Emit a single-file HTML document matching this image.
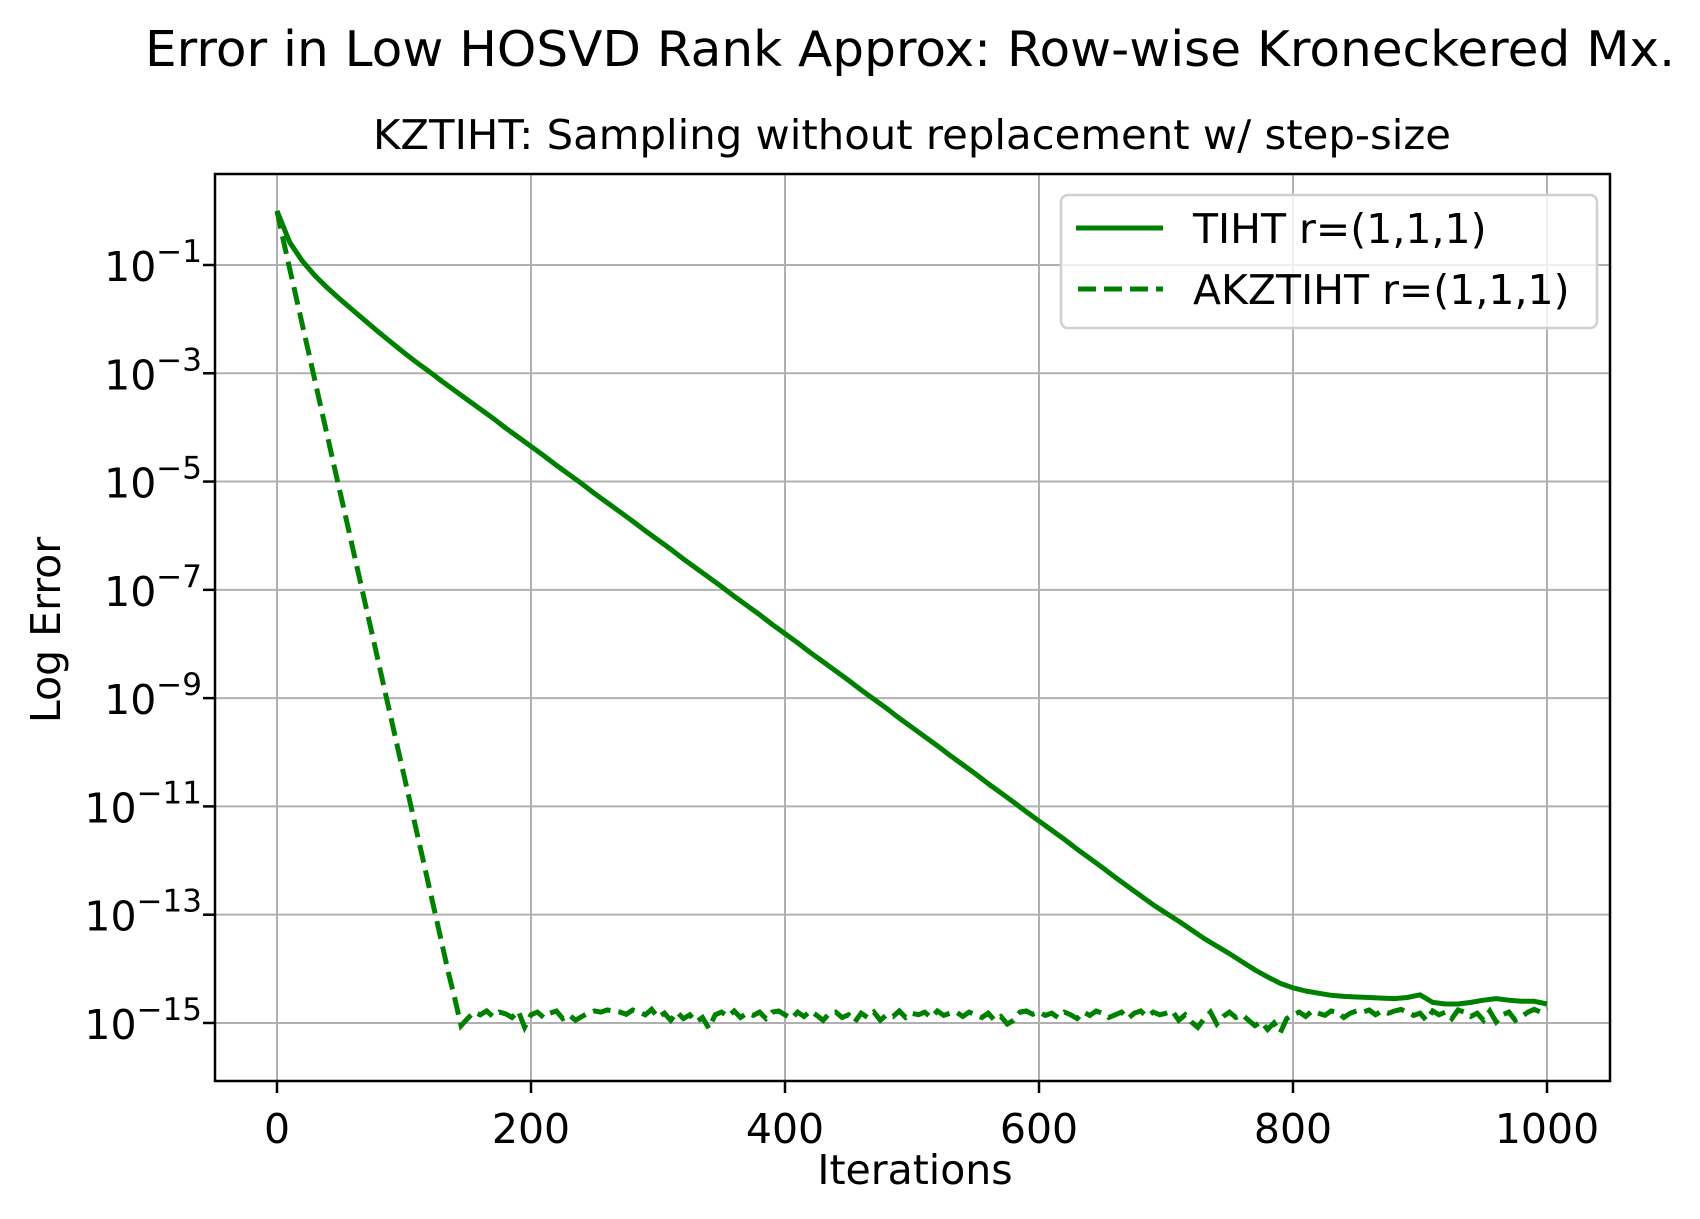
<!DOCTYPE html>
<html><head><meta charset="utf-8"><style>
html,body{margin:0;padding:0;background:#fff;}
svg{display:block;font-family:"DejaVu Sans","Liberation Sans",sans-serif;}
</style></head><body>
<svg id="chart" width="1700" height="1219" viewBox="0 0 1700 1219">
<rect x="0" y="0" width="1700" height="1219" fill="#fff"/>
<text x="910" y="66" font-size="49" text-anchor="middle" textLength="1530" lengthAdjust="spacingAndGlyphs">Error in Low HOSVD Rank Approx: Row-wise Kroneckered Mx.</text>
<text x="912" y="149" font-size="41" text-anchor="middle" textLength="1078" lengthAdjust="spacingAndGlyphs">KZTIHT: Sampling without replacement w/ step-size</text>
<g id="grid"></g>
<g id="series"></g>
<rect x="215" y="174" width="1395" height="907" fill="none" stroke="#000" stroke-width="2.5"/>
<g id="ticks"></g>
<text x="915" y="1184" font-size="41" text-anchor="middle">Iterations</text>
<text x="0" y="0" font-size="41" text-anchor="middle" transform="translate(60,630) rotate(-90)">Log Error</text>
<g>
<rect x="1061" y="195" width="536" height="133" rx="7" fill="#fff" fill-opacity="0.8" stroke="#d0d0d0" stroke-width="2.5"/>
<line x1="1076" y1="228" x2="1163" y2="228" stroke="#008000" stroke-width="5"/>
<text x="1193" y="243" font-size="41">TIHT r=(1,1,1)</text>
<line x1="1078" y1="289" x2="1163" y2="289" stroke="#008000" stroke-width="5" stroke-dasharray="18,8"/>
<text x="1193" y="304" font-size="41">AKZTIHT r=(1,1,1)</text>
</g>
</svg>
<script>
const xTicks = [0, 200, 400, 600, 800, 1000];
const yTickExps = [-1, -3, -5, -7, -9, -11, -13, -15];
const tihtIters = [0,10,20,30,40,50,60,70,80,90,100,110,120,130,140,150,160,170,180,190,200,210,220,230,240,250,260,270,280,290,300,310,320,330,340,350,360,370,380,390,400,410,420,430,440,450,460,470,480,490,500,510,520,530,540,550,560,570,580,590,600,610,620,630,640,650,660,670,680,690,700,710,720,730,740,750,760,770,780,790,800,810,820,830,840,850,860,870,880,890,900,910,920,930,940,950,960,970,980,990,1000];
const tihtLog = [0,-0.58,-0.93,-1.20,-1.43,-1.64,-1.84,-2.04,-2.24,-2.43,-2.62,-2.80,-2.97,-3.15,-3.32,-3.49,-3.66,-3.83,-4.01,-4.18,-4.35,-4.52,-4.70,-4.87,-5.04,-5.22,-5.39,-5.56,-5.73,-5.91,-6.08,-6.25,-6.43,-6.60,-6.77,-6.94,-7.12,-7.29,-7.46,-7.64,-7.81,-7.98,-8.16,-8.33,-8.50,-8.67,-8.85,-9.02,-9.19,-9.37,-9.54,-9.71,-9.88,-10.06,-10.23,-10.40,-10.58,-10.75,-10.92,-11.10,-11.27,-11.44,-11.61,-11.79,-11.96,-12.13,-12.31,-12.48,-12.65,-12.82,-12.97,-13.12,-13.28,-13.44,-13.58,-13.72,-13.87,-14.02,-14.15,-14.27,-14.35,-14.41,-14.45,-14.49,-14.51,-14.52,-14.53,-14.54,-14.55,-14.53,-14.48,-14.62,-14.65,-14.65,-14.62,-14.58,-14.55,-14.58,-14.60,-14.60,-14.65];
const akzIters = [];
for (let i = 0; i <= 1000; i += 5) akzIters.push(i);
const akzLog = [0,-0.55,-1.07,-1.59,-2.11,-2.63,-3.15,-3.67,-4.19,-4.71,-5.23,-5.75,-6.27,-6.79,-7.31,-7.83,-8.35,-8.87,-9.39,-9.91,-10.43,-10.95,-11.47,-11.99,-12.51,-13.03,-13.55,-14.07,-14.55,
-15.05,-14.92,-14.80,-14.85,-14.78,-14.88,-14.80,-14.83,-14.90,-14.78,-15.08,
-14.85,-14.80,-14.90,-14.82,-14.78,-14.92,-14.85,-14.95,-14.88,-14.82,-14.78,-14.80,-14.76,-14.78,-14.80,-14.84,-14.76,-14.80,-14.85,-14.75,
-14.90,-14.82,-14.95,-14.80,-14.92,-14.85,-14.98,-14.90,-15.10,-14.85,-14.80,-14.88,-14.78,-14.90,-14.82,-14.86,-14.80,-14.92,-14.80,-14.78,
-14.85,-14.92,-14.80,-14.88,-14.78,-14.86,-14.95,-14.82,-14.80,-14.90,-14.85,-14.98,-14.82,-14.90,-14.80,-14.95,-14.85,-14.88,-14.78,-14.90,
-14.82,-14.85,-14.80,-14.90,-14.78,-14.86,-14.82,-14.80,-14.88,-14.80,-14.85,-14.90,-14.82,-14.95,-14.88,-15.02,-14.95,-14.80,-14.78,-14.84,
-14.80,-14.86,-14.82,-14.90,-14.80,-14.85,-14.92,-14.80,-14.86,-14.78,-14.82,-14.90,-14.85,-14.80,-14.92,-14.82,-14.78,-14.88,-14.80,-14.85,
-14.82,-14.78,-14.95,-14.85,-14.98,-15.08,-14.92,-14.80,-15.02,-14.88,-14.80,-14.90,-14.85,-14.95,-15.05,-14.98,-15.12,-15.00,-15.18,-14.92,
-14.85,-14.80,-14.88,-14.78,-14.82,-14.86,-14.78,-14.80,-14.90,-14.82,-14.78,-14.80,-14.76,-14.85,-14.78,-14.82,-14.78,-14.75,-14.80,-14.86,
-14.82,-14.95,-14.78,-14.85,-14.80,-14.92,-14.76,-14.80,-14.88,-14.82,-14.95,-14.78,-14.98,-14.85,-14.80,-14.95,-14.88,-14.80,-14.75,-14.80,-14.72];

const NS = 'http://www.w3.org/2000/svg';
const PL = 215, PR = 1610, PT = 174, PB = 1081;
function xScale(v) { return 277 + v * 1.27; }
function yScale(e) { return 265 + (-1 - e) * 54.14; }
function mk(tag, attrs, parent) {
  const el = document.createElementNS(NS, tag);
  for (const k in attrs) el.setAttribute(k, attrs[k]);
  parent.appendChild(el);
  return el;
}
const grid = document.getElementById('grid');
const ticks = document.getElementById('ticks');
xTicks.forEach(function (v) {
  const x = xScale(v);
  const g = mk('line', {x1: x, x2: x, y1: PT, y2: PB, stroke: '#b0b0b0', 'stroke-width': 2}, grid);
  
  
  const t = mk('line', {x1: x, x2: x, y1: PB, y2: PB + 12, stroke: '#000', 'stroke-width': 2.5}, ticks);
  
  
  const l = mk('text', {x: x, y: 1143, 'font-size': 41, 'text-anchor': 'middle'}, ticks);
  l.textContent = String(v);
  
  
});
yTickExps.forEach(function (e) {
  const y = yScale(e);
  const g = mk('line', {x1: PL, x2: PR, y1: y, y2: y, stroke: '#b0b0b0', 'stroke-width': 2}, grid);
  
  
  const t = mk('line', {x1: PL - 12, x2: PL, y1: y, y2: y, stroke: '#000', 'stroke-width': 2.5}, ticks);
  
  
  const l = mk('text', {x: 202, y: y + 16, 'font-size': 41, 'text-anchor': 'end'}, ticks);
  const b = mk('tspan', {}, l);
  b.textContent = '10';
  const s = mk('tspan', {'font-size': 31, dy: -19}, l);
  s.textContent = '\u2212' + String(-e);
  
  
});
const series = document.getElementById('series');
const clip = mk('clipPath', {id: 'pc'}, series);
mk('rect', {x: PL, y: PT, width: PR - PL, height: PB - PT}, clip);
function pathFor(xs, ys) {
  return xs.map(function (x, i) { return (i ? 'L' : 'M') + xScale(x).toFixed(1) + ',' + yScale(ys[i]).toFixed(1); }).join('');
}
const p1 = mk('path', {d: pathFor(tihtIters, tihtLog), fill: 'none', stroke: '#008000', 'stroke-width': 5, 'stroke-linejoin': 'round', 'clip-path': 'url(#pc)'}, series);


const p2 = mk('path', {d: pathFor(akzIters, akzLog), fill: 'none', stroke: '#008000', 'stroke-width': 5, 'stroke-dasharray': '18,8', 'clip-path': 'url(#pc)'}, series);


</script>
</body></html>
